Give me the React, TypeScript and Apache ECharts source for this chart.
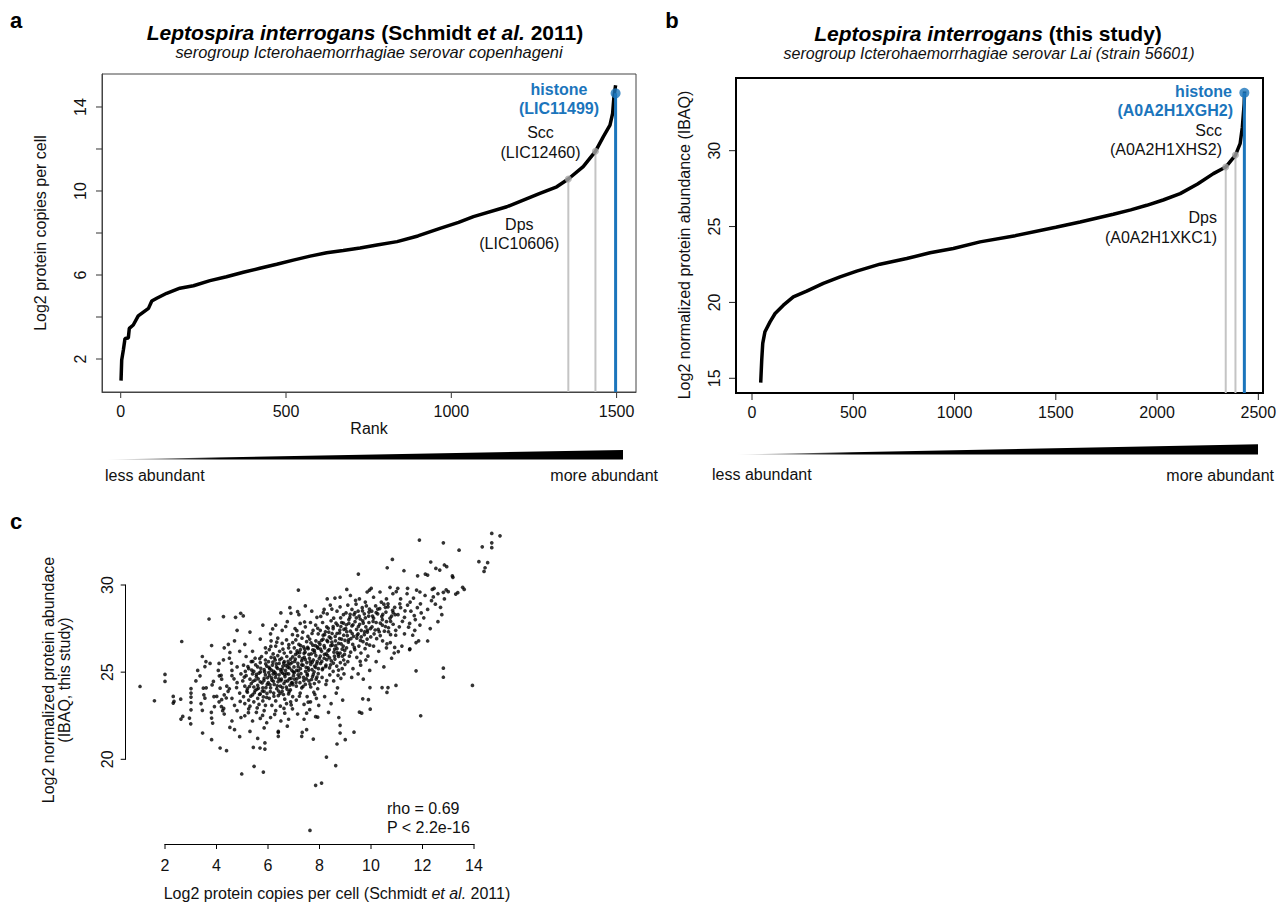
import React, { useEffect, useRef } from 'react';
import * as echarts from 'echarts';

const FONT = '"Liberation Sans", Arial, Helvetica, sans-serif';
const BLUE = '#1B75BC';
const GRAY_LINE = '#c4c4c4';
const GRAY_DOT = '#a8a8a8';

// ---------- Panel a: rank curve (Schmidt et al. 2011) ----------
const curveA: [number, number][] = [
  [1, 0.97], [3, 1.95], [8, 2.43], [13, 2.98], [23, 3.0], [26, 3.46], [38, 3.62], [53, 4.05],
  [84, 4.41], [94, 4.76], [109, 4.89], [139, 5.13], [179, 5.37], [220, 5.49], [270, 5.73],
  [320, 5.92], [371, 6.13], [421, 6.32], [472, 6.51], [522, 6.71], [573, 6.9], [623, 7.06],
  [673, 7.17], [724, 7.29], [775, 7.43], [836, 7.59], [899, 7.86], [966, 8.22], [1022, 8.51],
  [1067, 8.78], [1168, 9.25], [1268, 9.89], [1319, 10.2], [1354, 10.57], [1399, 11.16],
  [1436, 11.89], [1460, 12.59], [1480, 13.14], [1488, 13.7], [1492, 14.49], [1497, 15.03],
];
const markerRanksA = [1354, 1436, 1497];
const markerValuesA = [10.57, 11.89, 14.65];
const markerNamesA = ['Dps', 'Scc', 'histone'];
const markerIdsA = ['(LIC10606)', '(LIC12460)', '(LIC11499)'];
const xTicksA = [0, 500, 1000, 1500];
const yLabelsA = [2, 6, 10, 14];
const yTicksA = [2, 4, 6, 8, 10, 12, 14];

// ---------- Panel b: rank curve (this study) ----------
const curveB: [number, number][] = [
  [43, 14.71], [48, 16.2], [53, 17.3], [64, 18.07], [89, 18.72], [114, 19.27], [155, 19.82],
  [204, 20.37], [270, 20.74], [352, 21.25], [435, 21.68], [517, 22.06], [632, 22.52],
  [764, 22.89], [879, 23.27], [994, 23.55], [1126, 23.99], [1300, 24.4], [1500, 24.95],
  [1620, 25.3], [1784, 25.81], [1870, 26.1], [1949, 26.4], [2030, 26.75], [2114, 27.17],
  [2200, 27.8], [2278, 28.49], [2339, 28.92], [2387, 29.71], [2410, 30.46], [2421, 31.55],
  [2430, 33.09], [2432, 33.9],
];
const markerRanksB = [2339, 2387, 2431];
const markerValuesB = [28.92, 29.71, 33.82];
const markerNamesB = ['Dps', 'Scc', 'histone'];
const markerIdsB = ['(A0A2H1XKC1)', '(A0A2H1XHS2)', '(A0A2H1XGH2)'];
const xTicksB = [0, 500, 1000, 1500, 2000, 2500];
const yTicksB = [15, 20, 25, 30];

// ---------- Panel c: scatter ----------
const xTicksC = [2, 4, 6, 8, 10, 12, 14];
const yTicksC = [20, 25, 30];

const scatterOutliers: [number, number][] = [
  [14.69, 32.96], [15.01, 32.82], [14.69, 32.42], [14.69, 32.14], [14.32, 32.19], [13.42, 32.0],
  [12.81, 32.42], [11.88, 32.58], [14.19, 31.34], [14.53, 31.28], [14.43, 30.99], [14.39, 30.78],
  [10.83, 31.47], [10.63, 30.99], [11.28, 30.82], [12.32, 31.32], [12.85, 31.15], [12.52, 30.95],
  [12.67, 30.86], [12.94, 31.05], [13.16, 30.52], [13.18, 30.44], [12.11, 30.63], [12.2, 30.57],
  [11.81, 30.53], [9.51, 30.63], [7.18, 29.71], [13.56, 29.87], [13.62, 29.75], [13.37, 29.56],
  [13.0, 29.62], [13.29, 29.48], [12.81, 29.58], [12.38, 29.75], [12.45, 29.81], [11.77, 29.71],
  [11.42, 29.81], [10.74, 29.87], [11.04, 29.81], [10.98, 29.62], [10.01, 29.81], [9.94, 29.71],
  [9.06, 29.75], [13.94, 24.24], [12.81, 25.23], [12.81, 24.71], [11.75, 25.08], [11.93, 22.5],
  [12.2, 26.79], [11.06, 26.18], [10.97, 24.24], [10.66, 24.12], [10.62, 23.84], [10.43, 24.12],
  [9.96, 24.12], [9.97, 22.88], [9.9, 23.42], [9.68, 23.47], [9.64, 22.65], [9.55, 22.71],
  [9.34, 21.56], [9.0, 21.13], [8.68, 20.88], [8.8, 21.95], [8.8, 21.51], [8.27, 20.13],
  [8.63, 19.64], [8.08, 18.64], [7.85, 18.51], [7.63, 15.92], [7.76, 21.16], [7.93, 22.42],
  [7.5, 22.65], [7.33, 21.55], [7.31, 21.32], [5.82, 19.27], [5.46, 19.6], [4.98, 19.16],
  [5.43, 20.69], [5.69, 20.65], [5.88, 20.59], [5.88, 20.94], [6.4, 21.32], [6.4, 21.55],
  [4.52, 21.83], [4.39, 20.5], [4.14, 20.65], [3.81, 21.13], [3.85, 22.08], [3.81, 22.37],
  [3.46, 21.51], [2.95, 22.37], [3.0, 22.04], [2.69, 22.46], [2.62, 22.31], [3.01, 22.84],
  [3.01, 23.26], [3.01, 23.8], [3.01, 24.06], [3.01, 23.57], [2.32, 23.61], [2.35, 23.32],
  [2.32, 23.23], [1.59, 23.36], [1.03, 24.18], [2.0, 24.87], [2.0, 24.47], [2.61, 23.45],
  [2.65, 26.76], [3.71, 28.05], [4.27, 28.19], [4.74, 28.15], [4.94, 28.38], [5.04, 28.23],
  [3.81, 26.53], [4.46, 26.6], [4.27, 25.71], [4.52, 26.13], [3.45, 25.9], [3.27, 25.1],
  [3.59, 25.61], [3.55, 25.32], [3.36, 24.79], [4.07, 25.1], [4.11, 24.79], [3.88, 24.47],
  [3.83, 24.27], [4.14, 24.08], [4.01, 23.61], [4.2, 23.42], [4.19, 23.03], [4.24, 22.79],
  [3.49, 24.08], [3.51, 23.7], [3.55, 23.51], [3.45, 22.81], [3.92, 23.03], [7.15, 28.47],
  [6.89, 28.38], [11.75, 26.7], [11.51, 26.34], [11.46, 27.58], [3.2, 24.5], [3.6, 24.1],
  [3.75, 25.5], [3.9, 23.6], [3.4, 23.2], [3.8, 22.7],
];

const scatterLow: [number, number][] = [
  [4.3, 26.4], [4.7, 26.8], [4.9, 26.2], [4.1, 25.5], [4.5, 25.8], [4.8, 25.3], [4.6, 25.1],
  [4.2, 24.6], [4.4, 24.2], [4.6, 24.8], [4.8, 24.4], [4.95, 24.9], [4.5, 24.05], [4.1, 23.3],
  [4.3, 23.7], [4.6, 23.5], [4.7, 23.1], [4.9, 23.8], [4.45, 23.9], [4.3, 22.6], [4.6, 22.2],
  [4.8, 22.8], [4.95, 22.4], [4.7, 21.7], [4.9, 21.3], [4.8, 27.4],
  [5.3, 27.3], [5.8, 27.7], [5.1, 26.6], [5.4, 26.2], [5.7, 26.9], [5.9, 26.4],
  [5.05, 25.4], [5.15, 25.9], [5.25, 25.2], [5.35, 25.6], [5.45, 25.05], [5.5, 25.8], [5.6, 25.3],
  [5.7, 25.55], [5.75, 25.9], [5.85, 25.15], [5.9, 25.7], [5.95, 25.35],
  [5.02, 24.5], [5.1, 24.2], [5.15, 24.8], [5.2, 24.05], [5.3, 24.6], [5.35, 24.35], [5.4, 24.9],
  [5.45, 24.15], [5.5, 24.55], [5.55, 24.75], [5.6, 24.25], [5.65, 24.95], [5.7, 24.45],
  [5.8, 24.1], [5.85, 24.65], [5.9, 24.85], [5.97, 24.3],
  [5.05, 23.6], [5.1, 23.2], [5.2, 23.85], [5.25, 23.4], [5.3, 23.05], [5.4, 23.7], [5.45, 23.3],
  [5.5, 23.95], [5.6, 23.5], [5.65, 23.15], [5.7, 23.75], [5.8, 23.35], [5.85, 23.9], [5.9, 23.1],
  [5.95, 23.55], [5.1, 22.5], [5.25, 22.9], [5.4, 22.2], [5.55, 22.7], [5.7, 22.35], [5.85, 22.8],
  [5.95, 22.1], [5.3, 21.6], [5.6, 21.2], [5.85, 21.8],
];

const scatterMid: [number, number][] = [
  [6.5, 28.4], [6.85, 28.7], [6.1, 27.2], [6.3, 27.7], [6.55, 27.4], [6.75, 27.9], [6.95, 27.15],
  [6.05, 26.3], [6.12, 26.8], [6.2, 26.05], [6.3, 26.5], [6.38, 26.95], [6.45, 26.2], [6.55, 26.65],
  [6.63, 26.1], [6.72, 26.85], [6.8, 26.4], [6.88, 26.15], [6.96, 26.7],
  [6.02, 25.6], [6.07, 25.2], [6.12, 25.85], [6.17, 25.4], [6.22, 25.05], [6.28, 25.7], [6.33, 25.3],
  [6.38, 25.95], [6.43, 25.5], [6.48, 25.15], [6.53, 25.8], [6.58, 25.35], [6.63, 25.6], [6.68, 25.1],
  [6.73, 25.9], [6.78, 25.45], [6.83, 25.25], [6.88, 25.75], [6.93, 25.55], [6.98, 25.02],
  [6.01, 24.4], [6.06, 24.8], [6.1, 24.1], [6.15, 24.55], [6.2, 24.9], [6.24, 24.3], [6.29, 24.7],
  [6.34, 24.05], [6.39, 24.45], [6.43, 24.85], [6.48, 24.2], [6.52, 24.6], [6.57, 24.95], [6.62, 24.35],
  [6.66, 24.75], [6.71, 24.15], [6.76, 24.5], [6.8, 24.9], [6.85, 24.25], [6.9, 24.65], [6.94, 24.4],
  [6.99, 24.8], [6.05, 23.5], [6.15, 23.1], [6.22, 23.8], [6.3, 23.35], [6.4, 23.65], [6.48, 23.05],
  [6.55, 23.9], [6.65, 23.45], [6.72, 23.2], [6.8, 23.75], [6.88, 23.3], [6.96, 23.6],
  [6.1, 22.4], [6.3, 22.8], [6.5, 22.2], [6.65, 22.65], [6.8, 22.3], [6.95, 22.9], [6.4, 21.6], [6.75, 21.9],
  [7.2, 28.3], [7.45, 28.8], [7.7, 28.5], [7.9, 28.15], [7.05, 27.5], [7.15, 27.1], [7.25, 27.8],
  [7.35, 27.3], [7.45, 27.6], [7.55, 27.05], [7.65, 27.85], [7.75, 27.4], [7.85, 27.7], [7.95, 27.2],
  [7.02, 26.4], [7.08, 26.85], [7.14, 26.1], [7.2, 26.6], [7.26, 26.3], [7.32, 26.95], [7.38, 26.45],
  [7.44, 26.15], [7.5, 26.75], [7.56, 26.35], [7.62, 26.9], [7.68, 26.05], [7.74, 26.55], [7.8, 26.25],
  [7.86, 26.8], [7.92, 26.45], [7.98, 26.7],
  [7.01, 25.3], [7.06, 25.75], [7.11, 25.1], [7.16, 25.5], [7.21, 25.9], [7.26, 25.2], [7.31, 25.65],
  [7.36, 25.4], [7.41, 25.85], [7.46, 25.05], [7.51, 25.55], [7.56, 25.25], [7.61, 25.8], [7.66, 25.45],
  [7.71, 25.15], [7.76, 25.7], [7.81, 25.35], [7.86, 25.95], [7.91, 25.6], [7.96, 25.2],
  [7.03, 24.6], [7.1, 24.2], [7.17, 24.85], [7.24, 24.4], [7.31, 24.1], [7.38, 24.7], [7.45, 24.3],
  [7.52, 24.9], [7.59, 24.5], [7.66, 24.15], [7.73, 24.75], [7.8, 24.35], [7.87, 24.6], [7.93, 24.05],
  [7.98, 24.45], [7.1, 23.4], [7.25, 23.8], [7.4, 23.15], [7.52, 23.6], [7.65, 23.3], [7.78, 23.85],
  [7.88, 23.5], [7.97, 23.1], [7.15, 22.6], [7.4, 22.3], [7.62, 22.85], [7.85, 22.45], [7.5, 21.7],
  [8.3, 29.2], [8.6, 29.25], [8.8, 29.3], [8.05, 28.2], [8.18, 28.6], [8.3, 28.35], [8.42, 28.85],
  [8.55, 28.1], [8.68, 28.5], [8.8, 28.75], [8.93, 28.3],
  [8.03, 27.4], [8.12, 27.85], [8.2, 27.15], [8.28, 27.6], [8.36, 27.3], [8.45, 27.95], [8.53, 27.5],
  [8.61, 27.05], [8.7, 27.7], [8.78, 27.25], [8.86, 27.85], [8.95, 27.45],
  [8.02, 26.6], [8.08, 26.2], [8.14, 26.9], [8.2, 26.4], [8.26, 26.05], [8.32, 26.75], [8.38, 26.3],
  [8.44, 26.95], [8.5, 26.55], [8.56, 26.15], [8.62, 26.8], [8.68, 26.35], [8.74, 26.65], [8.8, 26.1],
  [8.86, 26.9], [8.92, 26.5], [8.98, 26.25],
  [8.04, 25.5], [8.11, 25.15], [8.18, 25.8], [8.25, 25.4], [8.32, 25.95], [8.39, 25.25], [8.46, 25.65],
  [8.53, 25.05], [8.6, 25.75], [8.67, 25.35], [8.74, 25.9], [8.81, 25.55], [8.88, 25.2], [8.94, 25.7],
  [8.99, 25.45], [8.1, 24.7], [8.25, 24.3], [8.4, 24.85], [8.55, 24.5], [8.7, 24.1], [8.83, 24.65],
  [8.95, 24.9], [8.2, 23.6], [8.45, 23.2], [8.65, 23.8], [8.9, 23.4], [8.35, 22.7], [8.75, 22.4],
];

const scatterHigh: [number, number][] = [
  [9.2, 29.4], [9.55, 29.2], [9.85, 29.6],
  [9.03, 28.4], [9.1, 28.85], [9.18, 28.15], [9.26, 28.6], [9.34, 28.3], [9.42, 28.9], [9.5, 28.5],
  [9.58, 28.05], [9.66, 28.7], [9.74, 28.35], [9.82, 28.8], [9.92, 28.45],
  [9.02, 27.5], [9.08, 27.1], [9.14, 27.8], [9.2, 27.35], [9.26, 27.65], [9.32, 27.05], [9.38, 27.9],
  [9.44, 27.45], [9.5, 27.2], [9.56, 27.75], [9.62, 27.4], [9.68, 27.95], [9.74, 27.15], [9.8, 27.6],
  [9.86, 27.3], [9.92, 27.85], [9.98, 27.5],
  [9.05, 26.4], [9.13, 26.85], [9.21, 26.15], [9.29, 26.6], [9.37, 26.3], [9.45, 26.95], [9.53, 26.5],
  [9.61, 26.1], [9.69, 26.75], [9.77, 26.35], [9.85, 26.9], [9.95, 26.55],
  [9.1, 25.6], [9.3, 25.2], [9.45, 25.85], [9.6, 25.4], [9.8, 25.7], [9.95, 25.1],
  [9.25, 24.7], [9.5, 24.9], [9.7, 24.6],
  [10.1, 29.3], [10.35, 29.6], [10.6, 29.2], [10.85, 29.5],
  [10.03, 28.5], [10.1, 28.1], [10.18, 28.8], [10.26, 28.35], [10.34, 28.65], [10.42, 28.2], [10.5, 28.9],
  [10.58, 28.45], [10.66, 28.75], [10.74, 28.1], [10.84, 28.55], [10.94, 28.3],
  [10.04, 27.6], [10.12, 27.2], [10.2, 27.85], [10.28, 27.45], [10.36, 27.1], [10.44, 27.7], [10.52, 27.35],
  [10.6, 27.9], [10.68, 27.55], [10.76, 27.15], [10.86, 27.75], [10.96, 27.4],
  [10.1, 26.5], [10.3, 26.2], [10.45, 26.8], [10.6, 26.4], [10.75, 26.7], [10.9, 26.1],
  [10.2, 25.6], [10.5, 25.3], [10.8, 25.8],
  [11.15, 29.2], [11.4, 29.5], [11.65, 29.25], [11.9, 29.6],
  [11.05, 28.3], [11.15, 28.7], [11.3, 28.15], [11.42, 28.85], [11.55, 28.5], [11.68, 28.25], [11.8, 28.7],
  [11.95, 28.4], [11.1, 27.6], [11.3, 27.2], [11.5, 27.8], [11.7, 27.4], [11.9, 27.7],
  [11.2, 26.5], [11.5, 26.3], [11.85, 26.8],
  [12.1, 29.4], [12.35, 29.1], [12.6, 29.5], [12.85, 29.2], [12.2, 28.6], [12.5, 28.9], [12.75, 28.3],
  [12.3, 27.5], [12.6, 27.9],
];

const scatterCore: [number, number][] = [
  [5.08, 24.72], [5.18, 23.92], [5.22, 25.32], [5.28, 24.18], [5.33, 23.62], [5.37, 25.12], [5.42, 24.48],
  [5.47, 23.82], [5.52, 25.42], [5.57, 24.02], [5.62, 24.62], [5.67, 23.72], [5.72, 25.22], [5.77, 24.38],
  [5.82, 23.58], [5.87, 25.02], [5.92, 24.12], [5.96, 23.78], [5.12, 25.05], [5.41, 25.62], [5.68, 25.78],
  [5.93, 26.12], [5.24, 22.68], [5.58, 22.95], [5.79, 22.52],
  [6.04, 25.28], [6.09, 23.88], [6.14, 24.68], [6.19, 25.58], [6.23, 23.62], [6.27, 24.98], [6.32, 25.48],
  [6.36, 24.22], [6.41, 23.92], [6.46, 25.72], [6.5, 24.52], [6.55, 25.18], [6.6, 23.72], [6.64, 24.88],
  [6.69, 25.38], [6.74, 24.02], [6.78, 25.62], [6.83, 24.62], [6.87, 23.98], [6.92, 25.12], [6.97, 24.28],
  [6.11, 26.48], [6.34, 26.72], [6.58, 26.32], [6.81, 26.58], [6.26, 22.58], [6.62, 22.92], [6.9, 23.12],
  [6.18, 27.48], [6.69, 27.62],
  [7.04, 25.62], [7.09, 24.42], [7.13, 26.22], [7.18, 25.08], [7.22, 24.72], [7.27, 26.52], [7.31, 25.42],
  [7.36, 24.18], [7.4, 26.08], [7.45, 25.72], [7.49, 24.62], [7.54, 26.42], [7.58, 25.12], [7.63, 24.32],
  [7.67, 26.68], [7.72, 25.58], [7.76, 24.88], [7.81, 26.12], [7.85, 25.28], [7.9, 24.72], [7.94, 26.38],
  [7.99, 25.78], [7.12, 27.38], [7.42, 27.88], [7.71, 27.22], [7.93, 27.52], [7.22, 23.62], [7.56, 23.28],
  [7.82, 23.72],
  [8.04, 26.32], [8.09, 25.62], [8.14, 27.12], [8.19, 26.02], [8.24, 25.32], [8.29, 26.82], [8.34, 27.52],
  [8.39, 25.82], [8.44, 26.52], [8.49, 27.22], [8.54, 25.52], [8.59, 26.32], [8.64, 27.82], [8.69, 26.12],
  [8.74, 25.12], [8.79, 27.42], [8.84, 26.62], [8.89, 25.92], [8.94, 27.12], [8.99, 26.82], [8.15, 28.42],
  [8.48, 28.62], [8.82, 28.12], [8.28, 24.52], [8.72, 24.82],
  [9.04, 27.72], [9.12, 26.72], [9.19, 28.32], [9.27, 27.22], [9.35, 26.42], [9.43, 28.12], [9.51, 27.62],
  [9.59, 26.82], [9.67, 28.52], [9.75, 27.32], [9.83, 26.62], [9.91, 28.22], [9.99, 27.02], [9.16, 25.92],
  [9.58, 25.62], [9.88, 25.92], [9.4, 29.12], [9.78, 29.02],
  [10.06, 28.22], [10.16, 27.42], [10.26, 28.62], [10.36, 27.82], [10.46, 28.32], [10.56, 27.62],
  [10.66, 28.92], [10.76, 27.92], [10.86, 28.42], [10.96, 27.12], [10.22, 26.92], [10.62, 26.62],
  [10.92, 26.42], [10.4, 29.02],
  [11.12, 28.92], [11.32, 28.52], [11.52, 29.02], [11.72, 28.02], [11.92, 28.92], [11.22, 27.92],
  [11.62, 27.12], [12.05, 28.12], [12.42, 29.32], [12.7, 28.72], [12.92, 29.72],
  [4.18, 24.82], [4.38, 23.52], [4.58, 25.52], [4.78, 24.12], [4.92, 23.32], [4.28, 22.92], [4.68, 24.62],
];

const scatterDense: [number, number][] = [
  [5.55, 24.88], [5.63, 24.08], [5.71, 25.02], [5.78, 23.92], [5.84, 24.52], [5.91, 25.48], [5.98, 24.68],
  [6.03, 24.98], [6.08, 24.28], [6.13, 25.12], [6.21, 24.48], [6.25, 25.82], [6.31, 24.88], [6.37, 25.22],
  [6.42, 24.62], [6.47, 23.78], [6.51, 25.02], [6.56, 24.12], [6.61, 25.52], [6.67, 24.48], [6.72, 24.92],
  [6.77, 25.28], [6.82, 23.88], [6.86, 25.48], [6.91, 24.38], [6.96, 25.88],
  [7.02, 24.98], [7.07, 26.02], [7.12, 24.62], [7.17, 25.32], [7.23, 26.12], [7.28, 24.92], [7.33, 25.78],
  [7.39, 24.52], [7.43, 26.32], [7.48, 25.28], [7.53, 24.82], [7.59, 26.02], [7.64, 25.62], [7.69, 24.58],
  [7.74, 26.28], [7.79, 25.02], [7.84, 26.52], [7.89, 25.48], [7.95, 24.92],
  [8.03, 25.92], [8.08, 26.82], [8.13, 25.22], [8.18, 26.52], [8.23, 27.32], [8.28, 25.72], [8.33, 26.22],
  [8.38, 27.02], [8.43, 25.42], [8.48, 26.72], [8.53, 27.62], [8.58, 25.92], [8.63, 26.52], [8.68, 27.22],
  [8.73, 26.02], [8.78, 26.92], [8.83, 27.62], [8.88, 26.32], [8.93, 27.82], [8.97, 26.02],
  [9.06, 27.32], [9.14, 28.02], [9.22, 26.92], [9.3, 27.72], [9.38, 28.42], [9.46, 27.12], [9.54, 28.22],
  [9.62, 27.02], [9.7, 27.82], [9.78, 28.12], [9.86, 27.42], [9.94, 28.62],
  [10.08, 27.92], [10.2, 28.42], [10.32, 27.32], [10.44, 28.02], [10.56, 28.72], [10.68, 27.32],
  [10.8, 28.22], [10.92, 28.72],
];

// ---------- layout (pixels) ----------
const A = { left: 102, top: 74, width: 534, height: 318, xMin: -56.6, xMax: 1558.7, yMin: 0.429, yMax: 15.571 };
const B = { left: 736, top: 78, width: 527, height: 315, xMin: -79, xMax: 2523, yMin: 14.03, yMax: 34.79 };
const CX = { left: 165, top: 600, width: 309, height: 244 };
const CY = { left: 125.7, top: 585, width: 300, height: 174.3 };
const TICK_LEN = 6;

const txt = (x: number, y: number, text: string, opts: any = {}) => ({
  type: 'text',
  x,
  y,
  rotation: opts.rotation || 0,
  silent: true,
  style: {
    text,
    x: 0,
    y: 0,
    align: opts.align || 'center',
    verticalAlign: 'middle',
    fill: opts.color || '#111',
    font: opts.font || `16px ${FONT}`,
    rich: opts.rich,
  },
});

function markerLines(ranks: number[], values: number[], yMin: number, axis: number) {
  return ranks.map((r, i) => {
    const isHist = i === ranks.length - 1;
    return {
      type: 'line',
      xAxisIndex: axis,
      yAxisIndex: axis,
      data: [[r, yMin], [r, values[i]]],
      symbol: 'none',
      silent: true,
      z: isHist ? 4 : 1,
      lineStyle: { color: isHist ? BLUE : GRAY_LINE, width: isHist ? 3 : 2 },
    };
  });
}

function markerDots(ranks: number[], values: number[], axis: number) {
  return {
    type: 'scatter',
    xAxisIndex: axis,
    yAxisIndex: axis,
    silent: true,
    z: 5,
    data: ranks.map((r, i) => ({
      value: [r, values[i]],
      symbolSize: i === ranks.length - 1 ? 10 : 7,
      itemStyle: { color: i === ranks.length - 1 ? BLUE : GRAY_DOT },
    })),
  };
}

const labelStyle = { fontSize: 16, color: '#111', fontFamily: FONT, formatter: (v: number) => String(v) };
const boxLineA = { show: true, onZero: false, lineStyle: { color: '#444', width: 1 } };
const boxLineB = { show: true, onZero: false, lineStyle: { color: '#000', width: 2 } };

export default function App() {
  const ref = useRef<HTMLDivElement>(null);
  useEffect(() => {
    document.body.style.margin = '0';
    const chart = echarts.init(ref.current!, null, { renderer: 'svg', width: 1287, height: 908 });

    const wedgeFill = () =>
      new echarts.graphic.LinearGradient(0, 0, 1, 0, [
        { offset: 0, color: '#e6e6e6' },
        { offset: 0.22, color: '#000' },
        { offset: 1, color: '#000' },
      ]);
    const italicBoldRich = {
      i: { fontStyle: 'italic', fontWeight: 'bold', fontSize: 21, fontFamily: FONT, fill: '#000' },
      b: { fontWeight: 'bold', fontSize: 21, fontFamily: FONT, fill: '#000' },
    };

    const graphics: any[] = [
      // panel letters
      txt(16, 20, 'a', { font: `bold 22px ${FONT}`, color: '#000' }),
      txt(672, 20, 'b', { font: `bold 22px ${FONT}`, color: '#000' }),
      txt(16, 521, 'c', { font: `bold 22px ${FONT}`, color: '#000' }),
      // titles
      txt(365, 32, '{i|Leptospira interrogans} {b|(Schmidt }{i|et al.}{b| 2011)}', {
        font: `bold 21px ${FONT}`, color: '#000', rich: italicBoldRich,
      }),
      txt(369, 52, 'serogroup Icterohaemorrhagiae serovar copenhageni', { font: `italic 16.4px ${FONT}`, color: '#111' }),
      txt(988, 33, '{i|Leptospira interrogans} {b|(this study)}', {
        font: `bold 21px ${FONT}`, color: '#000', rich: italicBoldRich,
      }),
      txt(989, 53, 'serogroup Icterohaemorrhagiae serovar Lai (strain 56601)', { font: `italic 16px ${FONT}`, color: '#111' }),
      // axis titles
      txt(40, 233, 'Log2 protein copies per cell', { rotation: Math.PI / 2 }),
      txt(369, 428, 'Rank'),
      txt(684, 245, 'Log2 normalized protein abundance (IBAQ)', { rotation: Math.PI / 2 }),
      txt(48, 680, 'Log2 normalized protein abundace', { rotation: Math.PI / 2 }),
      txt(64.5, 680, '(IBAQ, this study)', { rotation: Math.PI / 2 }),
      txt(337, 893, '{n|Log2 protein copies per cell (Schmidt }{it|et al.}{n| 2011)}', {
        rich: {
          n: { fontSize: 16, fontFamily: FONT, fill: '#111' },
          it: { fontSize: 16, fontStyle: 'italic', fontFamily: FONT, fill: '#111' },
        },
      }),
      // abundance wedges
      { type: 'polygon', silent: true, shape: { points: [[107, 459.5], [623, 450], [623, 459.5]] }, style: { fill: wedgeFill() } },
      { type: 'polygon', silent: true, shape: { points: [[737, 454.5], [1258, 444.3], [1258, 454.5]] }, style: { fill: wedgeFill() } },
      txt(105, 475, 'less abundant', { align: 'left' }),
      txt(658, 475, 'more abundant', { align: 'right' }),
      txt(712, 474, 'less abundant', { align: 'left' }),
      txt(1274, 475, 'more abundant', { align: 'right' }),
      // panel a annotations
      txt(559, 89.5, markerNamesA[2], { font: `bold 16px ${FONT}`, color: BLUE }),
      txt(559, 108, markerIdsA[2], { font: `bold 16px ${FONT}`, color: BLUE }),
      txt(540.5, 132.5, markerNamesA[1]),
      txt(540.5, 152, markerIdsA[1]),
      txt(519.3, 224.5, markerNamesA[0]),
      txt(519.3, 243, markerIdsA[0]),
      // panel b annotations
      txt(1232, 91, markerNamesB[2], { align: 'right', font: `bold 16px ${FONT}`, color: BLUE }),
      txt(1233, 110, markerIdsB[2], { align: 'right', font: `bold 16px ${FONT}`, color: BLUE }),
      txt(1222, 130, markerNamesB[1], { align: 'right' }),
      txt(1222, 149.5, markerIdsB[1], { align: 'right' }),
      txt(1217, 217, markerNamesB[0], { align: 'right' }),
      txt(1217, 237, markerIdsB[0], { align: 'right' }),
      // correlation text
      txt(387, 808.5, 'rho = 0.69', { align: 'left' }),
      txt(387, 827.5, 'P < 2.2e-16', { align: 'left' }),
    ];

    const option: any = {
      animation: false,
      backgroundColor: '#fff',
      grid: [
        { left: A.left, top: A.top, width: A.width, height: A.height, show: true, borderColor: '#444', borderWidth: 1, backgroundColor: 'transparent' },
        { left: B.left, top: B.top, width: B.width, height: B.height, show: true, borderColor: '#000', borderWidth: 2, backgroundColor: 'transparent' },
        { left: 113.5, top: 515.3, width: 412, height: 331.2 },
        { left: CX.left, top: CX.top, width: CX.width, height: CX.height },
        { left: CY.left, top: CY.top, width: CY.width, height: CY.height },
      ],
      xAxis: [
        {
          gridIndex: 0, type: 'value', min: A.xMin, max: A.xMax, position: 'bottom',
          axisLine: boxLineA, splitLine: { show: false }, axisTick: { show: false },
          axisLabel: { ...labelStyle, margin: 11, customValues: xTicksA },
        },
        {
          gridIndex: 1, type: 'value', min: B.xMin, max: B.xMax, position: 'bottom',
          axisLine: boxLineB, splitLine: { show: false }, axisTick: { show: false },
          axisLabel: { ...labelStyle, margin: 11, customValues: xTicksB },
        },
        { gridIndex: 2, type: 'value', min: 0, max: 16, show: false },
        {
          gridIndex: 3, type: 'value', min: 2, max: 14, interval: 2,
          axisLine: { show: true, onZero: false, lineStyle: { color: '#000', width: 1 } },
          splitLine: { show: false }, axisTick: { show: false },
          axisLabel: { ...labelStyle, margin: 13, customValues: xTicksC },
        },
        { gridIndex: 4, type: 'value', min: 0, max: 1, show: false },
      ],
      yAxis: [
        {
          gridIndex: 0, type: 'value', min: A.yMin, max: A.yMax, position: 'left',
          axisLine: boxLineA, splitLine: { show: false }, axisTick: { show: false },
          axisLabel: { ...labelStyle, margin: 13.5, rotate: 90, customValues: yLabelsA },
        },
        {
          gridIndex: 1, type: 'value', min: B.yMin, max: B.yMax, position: 'left',
          axisLine: boxLineB, splitLine: { show: false }, axisTick: { show: false },
          axisLabel: { ...labelStyle, margin: 14, rotate: 90, customValues: yTicksB },
        },
        { gridIndex: 2, type: 'value', min: 15, max: 34, show: false },
        { gridIndex: 3, type: 'value', min: 0, max: 1, show: false },
        {
          gridIndex: 4, type: 'value', min: 20, max: 30, interval: 5,
          axisLine: { show: true, onZero: false, lineStyle: { color: '#000', width: 1 } },
          splitLine: { show: false }, axisTick: { show: false },
          axisLabel: { ...labelStyle, margin: 10, rotate: 90, customValues: yTicksC },
        },
      ],
      series: [
        ...markerLines(markerRanksA, markerValuesA, A.yMin, 0),
        {
          type: 'line', xAxisIndex: 0, yAxisIndex: 0, data: curveA, symbol: 'none', silent: true, z: 3,
          lineStyle: { color: '#000', width: 3.5 },
        },
        markerDots(markerRanksA, markerValuesA, 0),
        ...markerLines(markerRanksB, markerValuesB, B.yMin, 1),
        {
          type: 'line', xAxisIndex: 1, yAxisIndex: 1, data: curveB, symbol: 'none', silent: true, z: 3,
          lineStyle: { color: '#000', width: 3.5 },
        },
        markerDots(markerRanksB, markerValuesB, 1),
        {
          type: 'scatter', xAxisIndex: 2, yAxisIndex: 2, silent: true,
          data: [...scatterOutliers, ...scatterLow, ...scatterMid, ...scatterHigh, ...scatterCore, ...scatterDense],
          symbolSize: 3.7, itemStyle: { color: '#000' },
        },
      ],
      graphic: graphics,
    };

    chart.setOption(option);

    // tick marks placed through the axes' own scales
    const tickLines: any[] = [];
    const addX = (axisIndex: number, values: number[], baseY: number, len: number, color: string) => {
      values.forEach((v) => {
        const px = chart.convertToPixel({ xAxisIndex: axisIndex } as any, v) as number;
        tickLines.push({
          type: 'line', silent: true,
          shape: { x1: px, y1: baseY, x2: px, y2: baseY + len },
          style: { stroke: color, lineWidth: 1 },
        });
      });
    };
    const addY = (axisIndex: number, values: number[], baseX: number, len: number, color: string) => {
      values.forEach((v) => {
        const py = chart.convertToPixel({ yAxisIndex: axisIndex } as any, v) as number;
        tickLines.push({
          type: 'line', silent: true,
          shape: { x1: baseX - len, y1: py, x2: baseX, y2: py },
          style: { stroke: color, lineWidth: 1 },
        });
      });
    };
    addX(0, xTicksA, A.top + A.height, TICK_LEN, '#333');
    addY(0, yTicksA, A.left, TICK_LEN, '#333');
    addX(1, xTicksB, B.top + B.height + 1, TICK_LEN, '#222');
    addY(1, yTicksB, B.left - 1, TICK_LEN, '#222');
    addX(3, xTicksC, CX.top + CX.height, 5, '#000');
    addY(4, yTicksC, CY.left, 5, '#000');

    chart.setOption({ graphic: [...graphics, ...tickLines] });

    return () => chart.dispose();
  }, []);

  return (
    <div
      ref={ref}
      style={{ position: 'absolute', left: 0, top: 0, width: 1287, height: 908, background: '#fff' }}
    />
  );
}
